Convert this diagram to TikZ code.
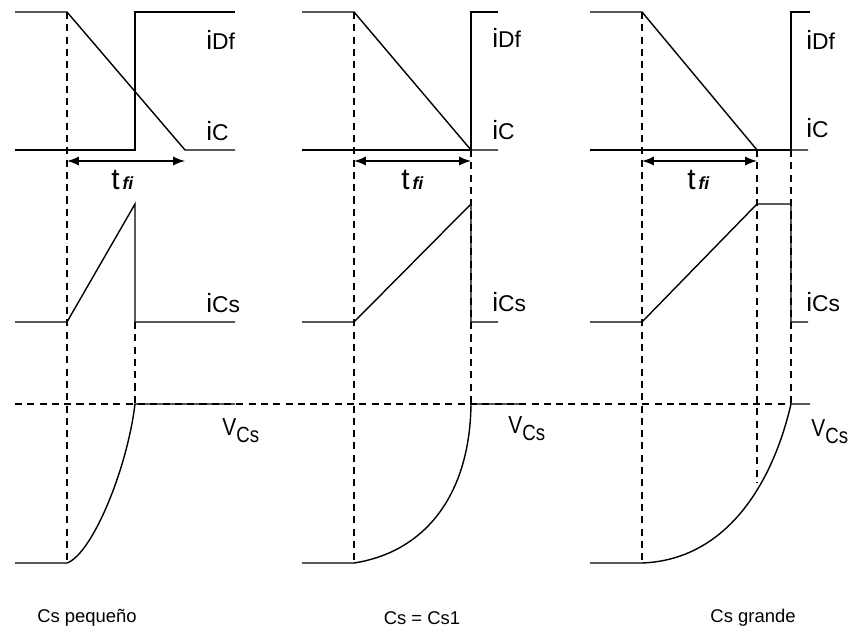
\documentclass[tikz,border=0pt]{standalone}
\usepackage{fontspec}
\setmainfont{Liberation Sans}
% señal con subíndice
\newcommand{\senal}[3][0pt]{{\fontsize{15}{15}\selectfont #2}{\raisebox{#1}{\fontsize{13}{13}\selectfont #3}}}
\newcommand{\tension}{\scalebox{0.85}[1]{{\fontsize{14}{14}\selectfont V}{\raisebox{-4pt}{\fontsize{12.5}{12.5}\selectfont Cs}}}}
\newcommand{\tfi}{{\fontsize{17}{17}\selectfont t}\,{\fontsize{10}{10}\selectfont\bfseries\itshape fi}}
\begin{document}
\begin{tikzpicture}[x=0.02cm,y=-0.02cm,>=latex,
  onda/.style={line width=0.8pt},
  guia/.style={line width=0.8pt,dash pattern=on 4pt off 3pt},
  cota/.style={<->,line width=1.3pt},
  etiq/.style={anchor=base west,inner sep=0pt},
  pie/.style={font=\fontsize{10.5}{10.5}\selectfont}]
  \useasboundingbox (0,0) rectangle (853,635);

  % niveles (en px)
  \def\yA{12}  % i_C máxima
  \def\yB{150} % cero de i_C
  \def\yT{161} % cota t_fi
  \def\yC{204} % pico de i_Cs
  \def\yD{322} % cero de i_Cs
  \def\yE{404} % V_Cs final
  \def\yF{563} % cero de V_Cs

  % línea de V_Cs común
  \draw[guia] (15,\yE) -- (791,\yE);

  % Cs pequeño
  \draw[onda] (15,\yA) -- (67,\yA) -- (185,\yB) -- (235,\yB);
  \draw[onda] (15,\yB) -- (135,\yB) -- (135,\yA) -- (235,\yA);
  \draw[guia] (67,\yA) -- (67,\yF);
  \draw[guia] (135,\yD) -- (135,\yE);
  \coordinate (ini1) at (67,\yT);
  \coordinate (fin1) at (185,\yT);
  \draw[cota] (ini1) -- (fin1);
  \node[etiq] (tfi1) at (111,190) {\tfi};
  \draw[onda] (15,\yD) -- (67,\yD) -- (135,\yC) -- (135,\yD) -- (235,\yD);
  \draw[onda] (15,\yF) -- (67,\yF) .. controls (92,554) and (127,470) .. (135,\yE) -- (235,\yE);
  \node[etiq] (iDf1) at (206,50) {\senal{i}{Df}};
  \node[etiq] (iC1) at (206,141) {\senal{i}{C}};
  \node[etiq] (iCs1) at (206,313) {\senal{i}{Cs}};
  \node[etiq] (vCs1) at (222,435) {\tension};
  \node[pie] (pie1) at (87,618) {Cs pequeño};

  % Cs = Cs1
  \draw[onda] (302,\yA) -- (354,\yA) -- (471,\yB) -- (498,\yB);
  \draw[onda] (302,\yB) -- (471,\yB) -- (471,\yA) -- (498,\yA);
  \draw[guia] (354,\yA) -- (354,\yF);
  \draw[guia] (471,\yB) -- (471,\yE);
  \coordinate (ini2) at (354,\yT);
  \coordinate (fin2) at (471,\yT);
  \draw[cota] (ini2) -- (fin2);
  \node[etiq] (tfi2) at (401,190) {\tfi};
  \draw[onda] (302,\yD) -- (354,\yD) -- (471,\yC) -- (471,\yD) -- (498,\yD);
  \draw[onda] (302,\yF) -- (354,\yF) .. controls (425,552) and (470,495) .. (471,\yE) -- (520,\yE);
  \node[etiq] (iDf2) at (492,48) {\senal{i}{Df}};
  \node[etiq] (iC2) at (492,140) {\senal{i}{C}};
  \node[etiq] (iCs2) at (492,312) {\senal{i}{Cs}};
  \node[etiq] (vCs2) at (508,433) {\tension};
  \node[pie] (pie2) at (422,618) {Cs = Cs1};

  % Cs grande
  \draw[onda] (590,\yA) -- (642,\yA) -- (757,\yB) -- (808,\yB);
  \draw[onda] (590,\yB) -- (791,\yB) -- (791,\yA) -- (810,\yA);
  \draw[guia] (642,\yA) -- (642,\yF);
  \draw[guia] (757,\yB) -- (757,483);
  \draw[guia] (791,\yB) -- (791,\yE);
  \coordinate (ini3) at (642,\yT);
  \coordinate (fin3) at (757,\yT);
  \draw[cota] (ini3) -- (fin3);
  \node[etiq] (tfi3) at (687,190) {\tfi};
  \draw[onda] (590,\yD) -- (642,\yD) -- (757,\yC) -- (791,\yC) -- (791,\yD) -- (808,\yD);
  \draw[onda] (590,\yF) -- (642,\yF) .. controls (725,560) and (772,486) .. (791,\yE) -- (810,\yE);
  \node[etiq] (iDf3) at (806,50) {\senal{i}{Df}};
  \node[etiq] (iC3) at (806,138) {\senal{i}{C}};
  \node[etiq] (iCs3) at (806,312) {\senal{i}{Cs}};
  \node[etiq] (vCs3) at (811,436) {\tension};
  \node[pie] (pie3) at (753,618) {Cs grande};
\end{tikzpicture}
\end{document}
